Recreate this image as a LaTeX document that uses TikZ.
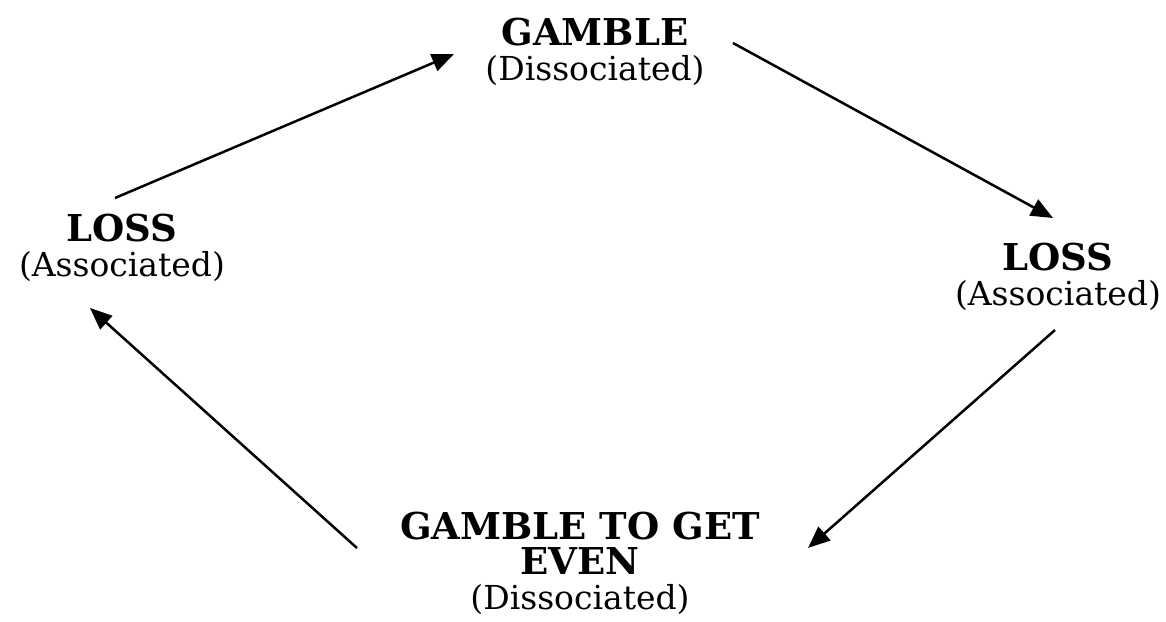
\documentclass[tikz,border=0pt]{standalone}
\usepackage{fontspec}
\setmainfont{DejaVu Serif}
\usetikzlibrary{arrows.meta}
\tikzset{
  state/.style={align=center, inner sep=0pt,
    font=\fontsize{33}{35}\selectfont},
  flow/.style={line width=2.5pt, -{Triangle[length=22pt,width=18pt]}}
}
\newcommand{\heading}[1]{{\fontsize{37}{35}\selectfont\bfseries #1}}
\begin{document}
\begin{tikzpicture}[x=1pt,y=-1pt]
  \useasboundingbox (0,0) rectangle (1166,621);
  \node[state] (gamble) at (595,52)  {\heading{GAMBLE}\\(Dissociated)};
  \node[state] (lossR)  at (1058,277) {\heading{LOSS}\\(Associated)};
  \node[state] (even)   at (580,563) {\heading{GAMBLE TO GET}\\\heading{EVEN}\\(Dissociated)};
  \node[state] (lossL)  at (122,248) {\heading{LOSS}\\(Associated)};

  \draw[flow] ([shift={(-7,-50)}]lossL.center) -- ([shift={(-141,2)}]gamble.center);
  \draw[flow] ([shift={(138,-9)}]gamble.center) -- ([shift={(-5,-59)}]lossR.center);
  \draw[flow] ([shift={(-3,53)}]lossR.center) -- ([shift={(228,-15)}]even.center);
  \draw[flow] ([shift={(-223,-15)}]even.center) -- ([shift={(-32,60)}]lossL.center);
\end{tikzpicture}
\end{document}
